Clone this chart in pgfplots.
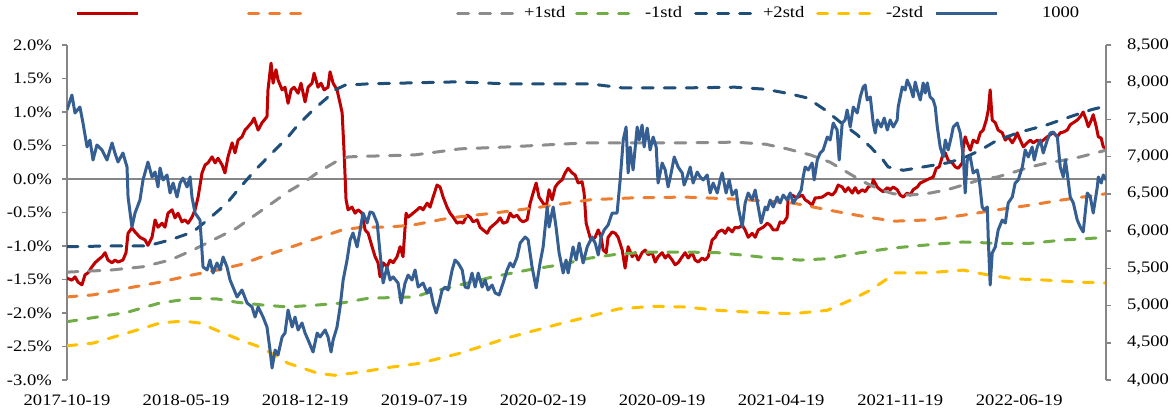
\documentclass[border=0pt]{standalone}
\usepackage{pgfplots}
\usepackage{pgfplotstable}
\usepackage{fontspec}
\pgfplotsset{compat=1.18}
\setmainfont{Liberation Serif}[FakeStretch=1.16]
\definecolor{cred}{HTML}{C00000}
\definecolor{corange}{HTML}{ED7D31}
\definecolor{cgrey}{HTML}{8C8C8C}
\definecolor{cgreen}{HTML}{70AD47}
\definecolor{cnavy}{HTML}{1F4E79}
\definecolor{cyellow}{HTML}{FFC000}
\definecolor{cblue}{HTML}{355E92}
\definecolor{axisgray}{HTML}{868686}

\pgfplotstableread{
m v
0 -1.48
0.29 -1.51
0.47 -1.46
0.65 -1.54
0.88 -1.58
1.06 -1.43
1.24 -1.40
1.47 -1.31
1.65 -1.25
1.82 -1.21
2.06 -1.16
2.24 -1.10
2.41 -1.21
2.65 -1.25
2.82 -1.21
3.0 -1.24
3.29 -1.21
3.47 -1.10
3.59 -0.81
3.82 -0.73
4.0 -0.79
4.29 -0.87
4.59 -0.91
4.76 -0.99
5.0 -0.87
5.18 -0.61
5.35 -0.72
5.59 -0.66
5.76 -0.72
5.94 -0.51
6.18 -0.46
6.35 -0.58
6.53 -0.51
6.76 -0.64
6.94 -0.61
7.12 -0.66
7.35 -0.57
7.53 -0.46
7.71 -0.27
7.94 0.09
8.12 0.21
8.29 0.24
8.53 0.33
8.71 0.24
8.88 0.31
9.12 0.21
9.29 0.09
9.47 0.33
9.71 0.54
9.88 0.39
10.06 0.58
10.29 0.63
10.47 0.73
10.65 0.78
10.88 0.85
11.0 0.91
11.24 0.73
11.47 0.84
11.76 0.93
11.82 1.33
12.0 1.73
12.12 1.43
12.29 1.63
12.41 1.48
12.65 1.33
12.82 1.37
13.0 1.13
13.18 1.33
13.35 1.37
13.59 1.28
13.76 1.43
14.0 1.15
14.18 1.37
14.41 1.43
14.53 1.58
14.76 1.37
14.94 1.43
15.12 1.33
15.35 1.37
15.47 1.60
15.65 1.43
15.88 1.33
16.06 1.13
16.18 0.99
16.29 0.43
16.41 -0.31
16.53 -0.46
16.76 -0.42
16.94 -0.51
17.12 -0.46
17.35 -0.51
17.53 -0.76
17.71 -0.81
17.94 -1.01
18.12 -1.16
18.29 -1.25
18.41 -1.46
18.59 -1.25
18.82 -1.31
19.0 -1.21
19.18 -1.25
19.41 -1.16
19.59 -1.01
19.76 -1.16
19.94 -0.51
20.06 -0.57
20.35 -0.51
20.59 -0.46
20.76 -0.42
20.94 -0.46
21.18 -0.36
21.35 -0.42
21.53 -0.27
21.76 -0.09
21.94 -0.12
22.12 -0.27
22.35 -0.42
22.53 -0.51
22.71 -0.57
22.94 -0.66
23.12 -0.64
23.29 -0.66
23.53 -0.54
23.71 -0.57
23.88 -0.64
24.12 -0.61
24.29 -0.72
24.47 -0.76
24.71 -0.81
24.88 -0.73
25.06 -0.69
25.29 -0.64
25.47 -0.58
25.65 -0.66
25.88 -0.64
26.06 -0.51
26.24 -0.57
26.47 -0.54
26.65 -0.61
26.82 -0.64
27.06 -0.61
27.24 -0.36
27.41 -0.21
27.59 -0.06
27.76 -0.27
28.0 -0.36
28.18 -0.42
28.35 -0.16
28.53 -0.31
28.71 -0.12
28.88 -0.06
29.12 -0.01
29.29 0.09
29.47 0.16
29.71 0.09
29.88 0.06
30.06 -0.06
30.29 -0.04
30.41 -0.21
30.53 -0.66
30.76 -0.87
30.88 -0.91
31.06 -0.87
31.24 -0.76
31.41 -0.87
31.53 -1.06
31.71 -1.10
31.82 -0.87
32.06 -0.79
32.24 -0.81
32.41 -0.87
32.65 -1.06
32.82 -1.33
33.0 -1.01
33.24 -1.16
33.41 -1.10
33.59 -1.21
33.82 -1.10
34.0 -1.06
34.18 -1.13
34.41 -1.10
34.59 -1.24
34.76 -1.16
35.0 -1.10
35.18 -1.18
35.35 -1.13
35.59 -1.21
35.76 -1.28
35.94 -1.25
36.18 -1.16
36.35 -1.10
36.53 -1.18
36.76 -1.10
36.94 -1.21
37.12 -1.24
37.35 -1.18
37.53 -1.21
37.71 -1.16
37.94 -0.91
38.12 -0.87
38.29 -0.79
38.53 -0.76
38.71 -0.81
38.88 -0.73
39.12 -0.79
39.29 -0.72
39.47 -0.73
39.71 -0.69
39.88 -0.76
40.06 -0.87
40.29 -0.81
40.47 -0.87
40.65 -0.76
40.94 -0.72
41.18 -0.66
41.35 -0.69
41.53 -0.76
41.76 -0.76
41.94 -0.64
42.12 -0.66
42.35 -0.57
42.41 -0.27
42.65 -0.24
42.82 -0.27
43.0 -0.27
43.24 -0.24
43.41 -0.31
43.59 -0.34
43.82 -0.39
44.0 -0.28
44.18 -0.28
44.41 -0.27
44.59 -0.24
44.76 -0.21
45.0 -0.24
45.18 -0.19
45.35 -0.09
45.59 -0.12
45.76 -0.19
45.94 -0.13
46.18 -0.21
46.35 -0.13
46.53 -0.21
46.76 -0.16
46.94 -0.19
47.12 -0.12
47.35 -0.09
47.41 -0.01
47.65 -0.12
47.82 -0.16
48.0 -0.19
48.24 -0.13
48.41 -0.16
48.59 -0.12
48.82 -0.16
49.0 -0.24
49.18 -0.27
49.41 -0.21
49.59 -0.24
49.76 -0.16
50.0 -0.12
50.18 -0.06
50.35 -0.04
50.59 -0.01
50.76 0.01
50.94 0.03
51.12 0.16
51.29 0.18
51.47 0.33
51.65 0.39
51.82 0.28
52.06 0.24
52.24 0.18
52.41 0.16
52.65 0.24
52.71 0.48
52.82 0.63
52.94 0.54
53.12 0.43
53.29 0.58
53.53 0.54
53.71 0.69
53.88 0.73
54.06 0.88
54.18 1.03
54.29 1.33
54.41 0.88
54.59 0.84
54.76 0.73
55.0 0.69
55.18 0.58
55.35 0.63
55.59 0.54
55.76 0.61
55.88 0.69
56.06 0.58
56.24 0.48
56.47 0.54
56.65 0.58
56.82 0.54
57.06 0.58
57.24 0.54
57.41 0.58
57.65 0.63
57.82 0.66
58.0 0.69
58.24 0.63
58.41 0.69
58.59 0.70
58.82 0.73
59.0 0.81
59.18 0.84
59.41 0.88
59.59 0.93
59.76 1.00
59.94 0.88
60.06 0.78
60.24 0.88
60.35 0.96
60.53 0.78
60.65 0.63
60.82 0.61
60.94 0.48
61.1 0.46
}\redtbl

\pgfplotstableread{
m v
0 -1.76
1.53 -1.73
3.53 -1.63
5.47 -1.54
7.41 -1.43
8.82 -1.36
10.18 -1.28
11.47 -1.16
13.0 -1.03
14.76 -0.88
16.18 -0.76
17.35 -0.72
18.71 -0.72
20.29 -0.69
22.53 -0.58
25.06 -0.51
27.82 -0.42
30.76 -0.31
33.41 -0.28
36.35 -0.27
39.29 -0.30
41.06 -0.33
42.71 -0.36
44.71 -0.46
46.65 -0.55
48.59 -0.63
50.76 -0.61
52.71 -0.54
54.71 -0.46
56.65 -0.39
58.59 -0.31
61.1 -0.22
}\orangetbl

\pgfplotstableread{
m v
0 -1.39
2.53 -1.36
4.47 -1.31
6.06 -1.21
7.41 -1.06
8.59 -0.91
10.0 -0.73
10.88 -0.57
12.06 -0.36
13.0 -0.19
14.0 -0.04
14.76 0.10
15.76 0.25
16.53 0.33
17.71 0.34
20.47 0.36
23.12 0.45
26.06 0.48
29.0 0.52
30.76 0.54
33.41 0.54
36.35 0.54
39.29 0.55
41.06 0.52
42.35 0.45
43.71 0.36
44.88 0.25
45.88 0.10
46.82 -0.04
47.82 -0.16
48.59 -0.22
49.59 -0.24
50.76 -0.21
51.76 -0.16
52.71 -0.09
53.71 -0.01
54.71 0.03
55.65 0.10
56.65 0.18
57.65 0.24
58.59 0.28
59.59 0.33
61.1 0.43
}\greytbl

\pgfplotstableread{
m v
0 -2.13
1.53 -2.07
3.53 -1.99
5.47 -1.85
7.41 -1.78
8.82 -1.79
10.0 -1.84
11.47 -1.88
13.0 -1.91
14.76 -1.88
16.18 -1.85
17.71 -1.78
20.47 -1.76
21.18 -1.70
23.12 -1.58
25.06 -1.46
27.06 -1.36
29.0 -1.28
30.76 -1.18
32.41 -1.12
34.41 -1.09
36.35 -1.09
38.29 -1.10
40.29 -1.15
41.35 -1.18
43.12 -1.21
44.71 -1.19
46.65 -1.10
48.59 -1.03
51.18 -0.97
52.71 -0.94
54.71 -0.96
56.65 -0.96
58.59 -0.91
60.59 -0.88
}\greentbl

\pgfplotstableread{
m v
0 -1.01
2.53 -1.00
4.71 -1.00
6.06 -0.91
7.41 -0.79
8.41 -0.58
9.41 -0.36
10.06 -0.16
11.06 0.13
12.06 0.39
12.94 0.61
13.59 0.81
14.47 1.03
15.29 1.21
15.76 1.33
16.35 1.40
17.71 1.42
22.94 1.45
25.88 1.42
30.76 1.42
32.65 1.36
36.35 1.36
39.29 1.37
41.06 1.34
42.35 1.28
43.53 1.21
44.59 1.03
45.47 0.85
46.47 0.66
47.24 0.48
48.0 0.28
48.29 0.18
49.18 0.13
50.35 0.18
51.76 0.24
52.71 0.31
53.71 0.43
54.71 0.58
56.06 0.70
57.65 0.81
59.0 0.93
60.18 1.03
61.1 1.09
}\navytbl

\pgfplotstableread{
m v
0 -2.49
1.53 -2.45
3.53 -2.30
5.47 -2.15
6.82 -2.12
7.82 -2.15
9.0 -2.28
10.18 -2.40
11.47 -2.52
13.0 -2.75
14.76 -2.90
15.76 -2.93
17.35 -2.88
18.71 -2.82
20.76 -2.75
23.12 -2.60
26.06 -2.36
29.0 -2.16
30.59 -2.06
32.41 -1.94
34.41 -1.90
36.35 -1.91
38.29 -1.96
40.29 -1.99
42.71 -2.01
44.71 -1.96
46.06 -1.81
47.24 -1.66
48.12 -1.51
48.71 -1.40
50.59 -1.40
52.71 -1.36
54.12 -1.43
55.65 -1.49
57.65 -1.51
59.59 -1.54
61.1 -1.55
}\yellowtbl

\pgfplotstableread{
m v
0 7627
0.29 7828
0.47 7587
0.76 7667
0.94 7452
1.18 7130
1.35 7224
1.53 6955
1.76 7157
2.06 7090
2.35 6955
2.65 7184
2.82 7049
3.0 6928
3.29 7049
3.53 6861
3.59 6458
3.82 6055
4.0 6243
4.29 6418
4.47 6687
4.76 6928
5.0 6727
5.18 6794
5.35 6593
5.47 6848
5.65 6687
5.88 6754
6.06 6512
6.24 6646
6.47 6458
6.65 6646
6.82 6713
7.06 6593
7.24 6727
7.35 6458
7.53 6243
7.82 6149
8.0 5518
8.24 5478
8.41 5612
8.59 5437
8.82 5572
9.0 5478
9.18 5652
9.41 5518
9.59 5343
9.76 5249
10.0 5115
10.29 5209
10.59 5034
10.88 4981
11.06 4846
11.24 4981
11.53 4846
11.76 4712
11.94 4403
12.06 4161
12.24 4403
12.41 4336
12.65 4578
12.82 4631
13.0 4940
13.24 4712
13.41 4846
13.59 4672
13.82 4766
14.0 4631
14.18 4537
14.47 4376
14.71 4631
14.88 4578
15.18 4672
15.35 4578
15.53 4376
15.65 4537
15.88 4712
16.06 4981
16.24 5343
16.47 5612
16.65 5881
16.82 5975
17.06 5787
17.24 6015
17.41 6243
17.65 6109
17.82 6257
18.0 6243
18.24 6109
18.41 5706
18.59 5303
18.82 5518
19.0 5343
19.18 5384
19.47 5303
19.65 5034
19.88 5303
20.06 5410
20.29 5343
20.47 5478
20.65 5249
20.94 5303
21.18 5169
21.35 5236
21.53 5034
21.71 4900
21.88 5034
22.06 5209
22.24 5249
22.41 5209
22.65 5478
22.82 5612
23.0 5572
23.24 5478
23.41 5249
23.59 5236
23.82 5437
24.0 5249
24.18 5437
24.41 5249
24.59 5343
24.76 5209
25.0 5276
25.18 5169
25.41 5142
25.65 5303
25.88 5478
26.06 5572
26.24 5518
26.47 5652
26.65 5840
26.94 5921
27.12 5881
27.35 5518
27.59 5236
27.82 5572
28.0 5787
28.24 6324
28.35 6055
28.59 6324
28.76 6055
28.94 5706
29.18 5437
29.35 5612
29.47 5437
29.76 5787
29.94 5612
30.12 5840
30.35 5572
30.59 5787
30.88 5921
31.06 5840
31.24 5679
31.41 5921
31.59 6015
31.82 6082
32.06 6243
32.35 6243
32.53 6687
32.71 7224
32.88 7399
33.0 6781
33.12 7130
33.29 6821
33.53 7399
33.65 7224
33.82 7425
33.94 7130
34.12 7385
34.29 7090
34.47 7264
34.65 7130
34.76 6646
35.0 6915
35.18 6821
35.35 6593
35.53 6781
35.71 6996
35.94 6861
36.18 6781
36.29 6619
36.47 6727
36.65 6861
36.82 6646
37.06 6794
37.24 6727
37.41 6687
37.65 6754
37.82 6512
38.0 6646
38.24 6512
38.41 6687
38.53 6781
38.76 6512
38.94 6687
39.12 6485
39.35 6552
39.47 6324
39.71 6055
39.88 6378
40.06 6512
40.29 6418
40.47 6552
40.65 6324
40.82 6109
41.06 6324
41.18 6284
41.35 6418
41.53 6324
41.76 6458
41.94 6378
42.12 6485
42.35 6418
42.53 6512
42.71 6378
42.94 6458
43.18 6552
43.29 6727
43.41 6861
43.59 6821
43.82 6915
43.94 6687
44.12 6955
44.29 7049
44.47 7090
44.71 7264
44.88 7224
45.06 7452
45.29 7358
45.41 6955
45.59 7452
45.76 7493
45.88 7627
46.06 7399
46.24 7667
46.47 7587
46.65 7802
46.82 7936
46.94 7963
47.06 7761
47.24 7802
47.41 7452
47.53 7318
47.65 7493
47.88 7399
48.06 7519
48.24 7358
48.41 7493
48.59 7399
48.82 7493
48.88 7667
49.12 7936
49.29 7896
49.41 8030
49.59 7936
49.76 7802
49.88 8003
50.0 7896
50.18 7761
50.35 7990
50.47 7855
50.59 7990
50.76 7802
50.94 7761
51.06 7667
51.18 7399
51.35 7130
51.53 6996
51.65 7224
51.82 7090
52.0 7264
52.12 7399
52.35 7452
52.53 7318
52.71 6996
52.82 6512
52.94 6955
53.12 6996
53.29 6781
53.53 6821
53.65 6687
53.82 6324
53.94 6284
54.12 6324
54.18 5881
54.29 5276
54.41 5706
54.59 5787
54.76 6015
55.0 6149
55.18 6109
55.35 6378
55.59 6458
55.76 6646
55.94 6687
56.18 6861
56.35 7090
56.53 6996
56.76 7130
56.88 6955
57.06 7130
57.24 7224
57.41 7049
57.65 7224
57.82 7318
58.0 7331
58.24 7264
58.41 6861
58.59 6727
58.71 6955
58.82 6781
59.0 6458
59.18 6378
59.41 6149
59.59 6055
59.76 5988
60.0 6512
60.18 6458
60.35 6243
60.59 6593
60.65 6727
60.82 6646
60.94 6754
61.1 6687
}\bluetbl

\pgfplotsset{
  sred/.style={draw=cred, line width=3pt, line join=round},
  sorange/.style={draw=corange, line width=3pt, line cap=round, dash pattern=on 10pt off 11pt},
  sgrey/.style={draw=cgrey, line width=3pt, line cap=round, dash pattern=on 11pt off 11pt},
  sgreen/.style={draw=cgreen, line width=3pt, line cap=round, dash pattern=on 10pt off 11pt},
  snavy/.style={draw=cnavy, line width=3pt, line cap=round, dash pattern=on 11pt off 11pt},
  syellow/.style={draw=cyellow, line width=3pt, line cap=round, dash pattern=on 10pt off 11pt},
  sblue/.style={draw=cblue, line width=3pt, line join=round},
  common/.style={
    scale only axis, width=1039pt, height=335pt,
    at={(67pt,32pt)}, anchor=south west,
    xmin=0, xmax=61.1, enlargelimits=false,
    tick label style={font=\fontsize{16}{19}\selectfont},
    /pgf/number format/assume math mode=true,
    major tick length=5pt, tick align=outside,
  },
}

\begin{document}
\begin{tikzpicture}
\useasboundingbox (0,0) rectangle (1172pt,412pt);
\begin{axis}[common,
  axis y line*=left, axis x line*=bottom,
  x axis line style={draw=none},
  y axis line style={draw=axisgray, line width=1.5pt},
  ytick style={draw=axisgray, line width=1.5pt},
  xtick style={draw=none},
  ymin=-3, ymax=2,
  ytick={-3,-2.5,-2,-1.5,-1,-0.5,0,0.5,1,1.5,2},
  yticklabel={\pgfmathprintnumber[fixed,fixed zerofill,precision=1]{\tick}\%},
  yticklabel style={anchor=east, inner sep=0pt, xshift=-10pt},
  xtick={0,7,14,21,28,35,42,49,56},
  xticklabels={2017-10-19,2018-05-19,2018-12-19,2019-07-19,2020-02-19,2020-09-19,2021-04-19,2021-11-19,2022-06-19},
  xticklabel style={anchor=north, inner sep=0pt, yshift=-10pt},
  extra y ticks={0}, extra y tick labels={},
  extra y tick style={grid=major, major grid style={draw=axisgray, line width=1.5pt}, major tick length=0pt},
]
\addplot[sred] table[x=m,y=v]{\redtbl};
\addplot[sorange] table[x=m,y=v]{\orangetbl};
\addplot[sgrey] table[x=m,y=v]{\greytbl};
\addplot[sgreen] table[x=m,y=v]{\greentbl};
\addplot[snavy] table[x=m,y=v]{\navytbl};
\addplot[syellow] table[x=m,y=v]{\yellowtbl};
\end{axis}
\begin{axis}[common,
  axis y line*=right, axis x line=none,
  y axis line style={draw=axisgray, line width=1.5pt},
  ytick style={draw=axisgray, line width=1.5pt},
  ymin=4000, ymax=8500,
  ytick={4000,4500,5000,5500,6000,6500,7000,7500,8000,8500},
  yticklabel={\pgfmathprintnumber[fixed,precision=0,1000 sep={,}]{\tick}},
  yticklabel style={anchor=west, inner sep=0pt, xshift=16pt},
  legend columns=-1,
  legend style={at={(0.0077,1.0955)}, anchor=west, draw=none, fill=none,
    inner sep=0pt, outer sep=0pt, column sep=0pt,
    font=\fontsize{16}{19}\selectfont,
    nodes={inner sep=0pt, outer sep=0pt}},
  legend image code/.code={\draw[#1] (0pt,0pt) -- (61pt,0pt);},
]
\addlegendimage{sred}\addlegendentry{\makebox[108pt][l]{}}
\addlegendimage{sorange}\addlegendentry{\makebox[145pt][l]{}}
\addlegendimage{sgrey}\addlegendentry{\makebox[55pt][l]{\hspace{4pt}+1std}}
\addlegendimage{sgreen}\addlegendentry{\makebox[55pt][l]{\hspace{6pt}-1std}}
\addlegendimage{snavy}\addlegendentry{\makebox[58pt][l]{\hspace{5pt}+2std}}
\addlegendimage{syellow}\addlegendentry{\makebox[54pt][l]{\hspace{6pt}-2std}}
\addplot[sblue] table[x=m,y=v]{\bluetbl};
\addlegendentry{\makebox[90pt][l]{\hspace{44pt}1000}}
\end{axis}
\end{tikzpicture}
\end{document}
